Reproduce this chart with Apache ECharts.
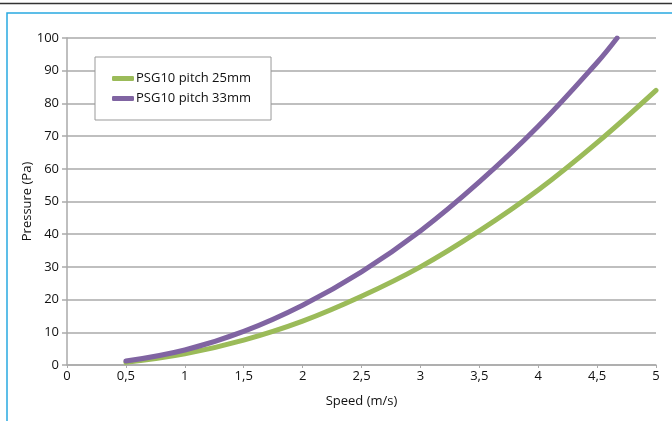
<!DOCTYPE html>
<html><head><meta charset="utf-8">
<script src="https://cdn.jsdelivr.net/npm/echarts@6/dist/echarts.min.js"></script>
<style>html,body{margin:0;padding:0;background:#fff}#c{width:672px;height:421px}</style>
</head><body><div id="c"></div>
<script>
var seriesNames = ['PSG10 pitch 25mm', 'PSG10 pitch 33mm'];
var speed25 = [0.5, 1, 1.5, 2, 2.5, 3, 3.5, 4, 4.5, 5];
var pressure25 = [0.8, 3.4, 7.6, 13.4, 21, 30, 41, 53.5, 68, 84];
var speed33 = [0.5, 1, 1.5, 2, 2.5, 3, 3.5, 4, 4.5, 4.67];
var pressure33 = [1.2, 4.6, 10.3, 18.3, 28.5, 41, 56, 73, 92.5, 100];
var xTicks = [0, 0.5, 1, 1.5, 2, 2.5, 3, 3.5, 4, 4.5, 5];
var yTicks = [0, 10, 20, 30, 40, 50, 60, 70, 80, 90, 100];

function pairs(xs, ys){ return xs.map(function(x,i){ return [x, ys[i]]; }); }
var font = '"Open Sans","Noto Sans",sans-serif';
var chart = echarts.init(document.getElementById('c'), null, {renderer:'canvas'});
chart.setOption({
  animation:false,
  backgroundColor:'#fff',
  graphic:[
    {type:'line', shape:{x1:0,y1:3.5,x2:672,y2:3.5}, style:{stroke:'#333',lineWidth:1.5}, z:0},
    {type:'polyline', shape:{points:[[7,421],[7,13],[672,13]]}, style:{stroke:'#29a9e1',lineWidth:1.5,fill:null}, z:0}
  ],
  grid:{left:67, right:16, top:38, bottom:56, containLabel:false},
  legend:{
    data:seriesNames, orient:'vertical', left:95, top:57,
    backgroundColor:'#fff', borderColor:'#999', borderWidth:1,
    padding:[15,20,15,17], itemGap:7, itemWidth:22, itemHeight:5,
    icon:'roundRect',
    textStyle:{fontFamily:font, fontSize:13, color:'#111', padding:[0,0,0,-3]}
  },
  xAxis:{
    type:'value', min:0, max:5, interval:0.5,
    name:'Speed (m/s)', nameLocation:'middle', nameGap:30, nameMoveOverlap:false,
    nameTextStyle:{fontFamily:font, fontSize:13, color:'#111'},
    axisLine:{lineStyle:{color:'#aaa', width:1.5}},
    axisTick:{show:true, length:3, lineStyle:{color:'#aaa'}},
    splitLine:{show:false},
    axisLabel:{fontFamily:font, fontSize:13, color:'#111', margin:5,
      formatter:function(v){ return String(v).replace('.', ','); }}
  },
  yAxis:{
    type:'value', min:0, max:100, interval:10,
    name:'Pressure (Pa)', nameLocation:'middle', nameGap:33, nameRotate:90, nameMoveOverlap:false,
    nameTextStyle:{fontFamily:font, fontSize:13, color:'#111'},
    axisLine:{show:true, lineStyle:{color:'#aaa', width:1.5}},
    axisTick:{show:true, length:5, lineStyle:{color:'#aaa', width:1.5}},
    splitLine:{show:true, lineStyle:{color:'#aaa', width:1.5}},
    axisLabel:{fontFamily:font, fontSize:13, color:'#111', margin:8}
  },
  series:[
    {name:seriesNames[0], type:'line', smooth:0.4, showSymbol:false, data:pairs(speed25, pressure25),
     lineStyle:{width:5, color:'#9bbb59', cap:'round'}, itemStyle:{color:'#9bbb59'}, z:3},
    {name:seriesNames[1], type:'line', smooth:0.4, showSymbol:false, data:pairs(speed33, pressure33),
     lineStyle:{width:5, color:'#8064a2', cap:'round'}, itemStyle:{color:'#8064a2'}, z:4}
  ]
});
</script></body></html>
